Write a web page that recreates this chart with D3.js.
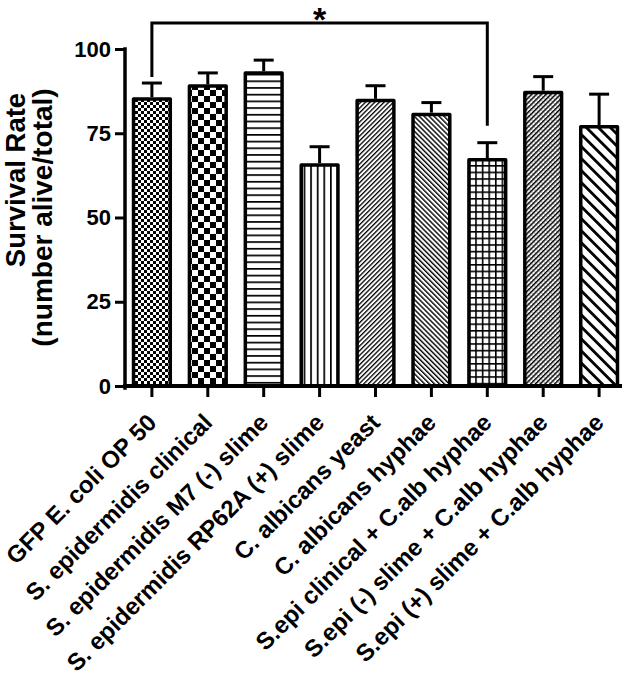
<!DOCTYPE html>
<html>
<head>
<meta charset="utf-8">
<script src="https://cdn.jsdelivr.net/npm/d3@7"></script>
<style>
  html, body { margin: 0; padding: 0; background: #fff; }
  svg { display: block; }
  text { font-family: "Liberation Sans", Arial, sans-serif; font-weight: bold; fill: #000; }
</style>
</head>
<body>
<svg id="chart" width="630" height="686"></svg>
<script>
// ---- data ----
const categories = [
  "GFP E. coli OP 50",
  "S. epidermidis clinical",
  "S. epidermidis M7 (-) slime",
  "S. epidermidis RP62A (+) slime",
  "C. albicans yeast",
  "C. albicans hyphae",
  "S.epi clinical + C.alb hyphae",
  "S.epi (-) slime + C.alb hyphae",
  "S.epi (+) slime + C.alb hyphae"
];
const means  = [85.2, 89.0, 92.9, 65.6, 84.7, 80.6, 67.1, 87.1, 76.9];
const errors = [4.7, 3.9, 3.8, 5.4, 4.4, 3.5, 5.1, 4.7, 9.7];
const yTicks = [0, 25, 50, 75, 100];
const yTitle = ["Survival Rate", "(number alive/total)"];
const significance = { from: 0, to: 6, label: "*", top: 107.7, leftEnd: 91.7, rightEnd: 77.2 };

// ---- layout ----
const svg = d3.select("#chart");
const y = d3.scaleLinear().domain([0, 100]).range([386, 49]);
const x = d3.scaleBand().domain(categories).range([124.5, 626.5])
  .paddingInner(0.28).paddingOuter(0.13);

// ---- patterns ----
const defs = svg.append("defs");
function pat(id, w, h, transform) {
  const p = defs.append("pattern").attr("id", id).attr("patternUnits", "userSpaceOnUse")
    .attr("width", w).attr("height", h);
  if (transform) p.attr("patternTransform", transform);
  p.append("rect").attr("width", w).attr("height", h).attr("fill", "#fff");
  return p;
}
// 1 fine checker
let p = pat("p0", 6, 6);
p.append("rect").attr("width", 3).attr("height", 3).attr("fill", "#000");
p.append("rect").attr("x", 3).attr("y", 3).attr("width", 3).attr("height", 3).attr("fill", "#000");
// 2 coarse checker
p = pat("p1", 12, 12);
p.append("rect").attr("width", 6).attr("height", 6).attr("fill", "#000");
p.append("rect").attr("x", 6).attr("y", 6).attr("width", 6).attr("height", 6).attr("fill", "#000");
// 3 horizontal lines
p = pat("p2", 6.7, 6.7);
p.append("rect").attr("y", 0).attr("width", 6.7).attr("height", 1.7).attr("fill", "#000");
// 4 vertical lines
p = pat("p3", 6.6, 6.6);
p.append("rect").attr("x", 0).attr("width", 1.7).attr("height", 6.6).attr("fill", "#000");
// 5 fine / lines
p = pat("p4", 3.3, 3.3, "rotate(45)");
p.append("rect").attr("width", 1.3).attr("height", 3.3).attr("fill", "#000");
// 6 fine \ lines
p = pat("p5", 3.5, 3.5, "rotate(-45)");
p.append("rect").attr("width", 1.4).attr("height", 3.5).attr("fill", "#000");
// 7 grid
p = pat("p6", 6.6, 6.6);
p.append("rect").attr("width", 6.6).attr("height", 1.6).attr("fill", "#000");
p.append("rect").attr("width", 1.6).attr("height", 6.6).attr("fill", "#000");
// 8 dense / with stipple
p = pat("p7", 3.4, 3.4, "rotate(45)");
p.append("rect").attr("width", 1.4).attr("height", 3.4).attr("fill", "#000");
p.append("rect").attr("x", 2.2).attr("y", 0.5).attr("width", 0.8).attr("height", 0.8).attr("fill", "#000");
// 9 coarse \ lines
p = pat("p8", 8.5, 8.5, "rotate(-45)");
p.append("rect").attr("width", 2.8).attr("height", 8.5).attr("fill", "#000");

// ---- bars ----
const sw = 3.5;
const g = svg.append("g");
categories.forEach((c, i) => {
  const bx = x(c), bw = x.bandwidth();
  g.append("rect")
    .attr("x", bx + sw / 2).attr("y", y(means[i]))
    .attr("width", bw - sw).attr("height", y(0) - y(means[i]))
    .attr("fill", `url(#p${i})`).attr("stroke", "#000")
    .attr("stroke-width", sw).attr("stroke-linejoin", "round");
  const cx = bx + bw / 2;
  g.append("line").attr("x1", cx).attr("x2", cx)
    .attr("y1", y(means[i]) - sw / 2).attr("y2", y(means[i] + errors[i]))
    .attr("stroke", "#000").attr("stroke-width", 3);
  g.append("line").attr("x1", cx - 10).attr("x2", cx + 10)
    .attr("y1", y(means[i] + errors[i])).attr("y2", y(means[i] + errors[i]))
    .attr("stroke", "#000").attr("stroke-width", 3);
});

// ---- axes ----
const yAxis = svg.append("g").attr("transform", "translate(125,0)")
  .call(d3.axisLeft(y).tickValues(yTicks).tickSize(10).tickPadding(4));
yAxis.select(".domain").attr("d", `M0,${y(100)}V${y(0) + 2}`).attr("stroke-width", 3.5).attr("stroke-linecap", "square");
yAxis.selectAll(".tick line").attr("stroke-width", 3);
yAxis.selectAll(".tick text").attr("font-size", 22).attr("font-family", '"Liberation Sans", Arial, sans-serif').attr("font-weight", "bold");

const xAxis = svg.append("g").attr("transform", `translate(0,${y(0)})`)
  .call(d3.axisBottom(x).tickSize(11).tickFormat(""));
xAxis.select(".domain").attr("d", "M123,0H622").attr("stroke-width", 4);
xAxis.selectAll(".tick line").attr("stroke-width", 3);

categories.forEach((c) => {
  const cx = x(c) + x.bandwidth() / 2;
  svg.append("text")
    .attr("transform", `translate(${cx + 6},${y(0) + 38}) rotate(-45)`)
    .attr("text-anchor", "end").attr("font-size", 24).text(c);
});

// ---- y title ----
svg.append("text").attr("transform", `translate(25,180) rotate(-90)`)
  .attr("text-anchor", "middle").attr("font-size", 27.5).text(yTitle[0]);
svg.append("text").attr("transform", `translate(52,217.5) rotate(-90)`)
  .attr("text-anchor", "middle").attr("font-size", 28).text(yTitle[1]);

// ---- significance bracket ----
const xl = x(categories[significance.from]) + x.bandwidth() / 2;
const xr = x(categories[significance.to]) + x.bandwidth() / 2;
svg.append("path")
  .attr("d", `M${xl},${y(significance.leftEnd)}V${y(significance.top)}H${xr}V${y(significance.rightEnd)}`)
  .attr("fill", "none").attr("stroke", "#000").attr("stroke-width", 3);
svg.append("text").attr("x", (xl + xr) / 2).attr("y", 31)
  .attr("text-anchor", "middle").attr("font-size", 34).text(significance.label);
</script>
</body>
</html>
